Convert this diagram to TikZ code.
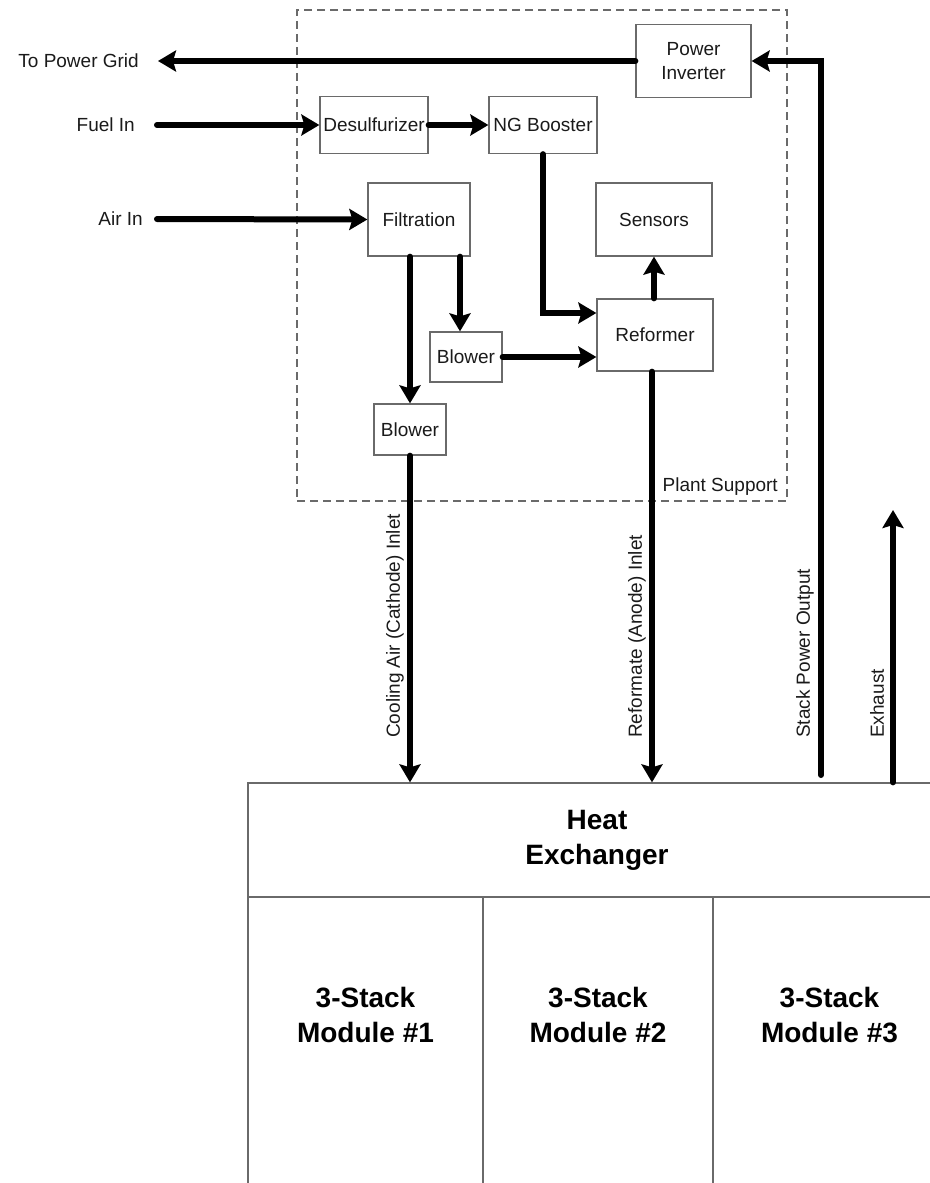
\documentclass[tikz,border=0pt]{standalone}
\usepackage{fontspec}
\setmainfont{Liberation Sans}
\usetikzlibrary{arrows.meta}
\definecolor{boxgray}{HTML}{6A6A6A}
\definecolor{txt}{HTML}{1A1A1A}
\tikzset{
  blk/.style={draw=boxgray, line width=1.3pt, inner sep=0pt, align=center, text=txt,
              font=\fontsize{19}{24}\selectfont},
  lbl/.style={inner sep=0pt, text=txt, font=\fontsize{19}{22}\selectfont},
  big/.style={inner sep=0pt, align=center, text=black, font=\fontsize{28}{35}\selectfont\bfseries},
  flow/.style={line width=6pt, line cap=round, black,
               -{Stealth[length=18pt,width=21pt,inset=3pt]}},
  plantbox/.style={draw=boxgray, line width=1.3pt, dash pattern=on 8pt off 5pt, inner sep=0pt},
  hxline/.style={draw=boxgray, line width=1.3pt}
}
\begin{document}
\begin{tikzpicture}[x=1pt,y=-1pt]
\useasboundingbox (0,0) rectangle (929,1183);

% plant support region
\node[plantbox, minimum width=490pt, minimum height=491pt] (plant) at (542,255.5) {};
\node[lbl, anchor=east] (plantlbl) at (778,487) {Plant Support};

% boxes
\node[blk, minimum width=115pt, minimum height=73pt] (inv) at (693.5,61) {Power\\Inverter};
\node[blk, minimum width=108pt, minimum height=57pt] (desulf) at (374,125) {Desulfurizer};
\node[blk, minimum width=108pt, minimum height=57pt] (ngb) at (543,125) {NG Booster};
\node[blk, minimum width=102pt, minimum height=73pt] (filt) at (419,219.5) {Filtration};
\node[blk, minimum width=116pt, minimum height=73pt] (sens) at (654,219.5) {Sensors};
\node[blk, minimum width=116pt, minimum height=72pt] (ref) at (655,335) {Reformer};
\node[blk, minimum width=72pt, minimum height=50pt] (bl1) at (466,357) {Blower};
\node[blk, minimum width=72pt, minimum height=51pt] (bl2) at (410,429.5) {Blower};

% external labels
\node[lbl, anchor=east] (grid) at (139,61) {To Power Grid};
\node[lbl, anchor=east] (fuel) at (135,125) {Fuel In};
\node[lbl, anchor=east] (air) at (143,219) {Air In};

% heat exchanger and modules
\node[hxline, minimum width=698pt, minimum height=114pt, inner sep=0pt] (hx) at (597,840) {};
\node[big] (hxt) at (597,840) {Heat\\Exchanger};
\draw[hxline] (248,897) rectangle (483,1195);
\draw[hxline] (483,897) rectangle (713,1195);
\draw[hxline] (713,897) rectangle (946,1195);
\node[big] (m1) at (365.5,1015) {3-Stack\\Module \#1};
\node[big] (m2) at (598,1015) {3-Stack\\Module \#2};
\node[big] (m3) at (829.5,1015) {3-Stack\\Module \#3};

% coordinates for free ends
\coordinate (spo) at (821,775);
\coordinate (exh) at (893,510);

% connectors
\draw[flow, shorten >=19pt] (inv.west) -- (grid.east);
\draw[flow, shorten <=22pt] (fuel.east) -- (desulf.west);
\draw[flow, shorten <=14pt] (air.east) -- (filt.west);
\draw[flow] (desulf.east) -- (ngb.west);
\draw[flow] (ngb.south) |- ([yshift=22pt]ref.west);
\draw[flow] (bl1.east) -- (bl1.east -| ref.west);
\draw[flow] ([xshift=41pt]filt.south) -- ([xshift=41pt]filt.south |- bl1.north);
\draw[flow] (filt.south -| bl2.north) -- (bl2.north);
\draw[flow] (ref.north -| sens.south) -- (sens.south);
\draw[flow] (bl2.south) -- (bl2.south |- hx.north);
\draw[flow] ([xshift=-3pt]ref.south) -- ([xshift=-3pt]ref.south |- hx.north);
\draw[flow] (spo) |- (inv.east);
\draw[flow] (exh |- hx.north) -- (exh);

% rotated connector labels
\node[lbl, rotate=90, anchor=west] (lcool) at (395,738) {Cooling Air (Cathode) Inlet};
\node[lbl, rotate=90, anchor=west] (lref) at (637,738) {Reformate (Anode) Inlet};
\node[lbl, rotate=90, anchor=west] (lspo) at (805,738) {Stack Power Output};
\node[lbl, rotate=90, anchor=west] (lexh) at (877,738) {Exhaust};
\end{tikzpicture}
\end{document}
